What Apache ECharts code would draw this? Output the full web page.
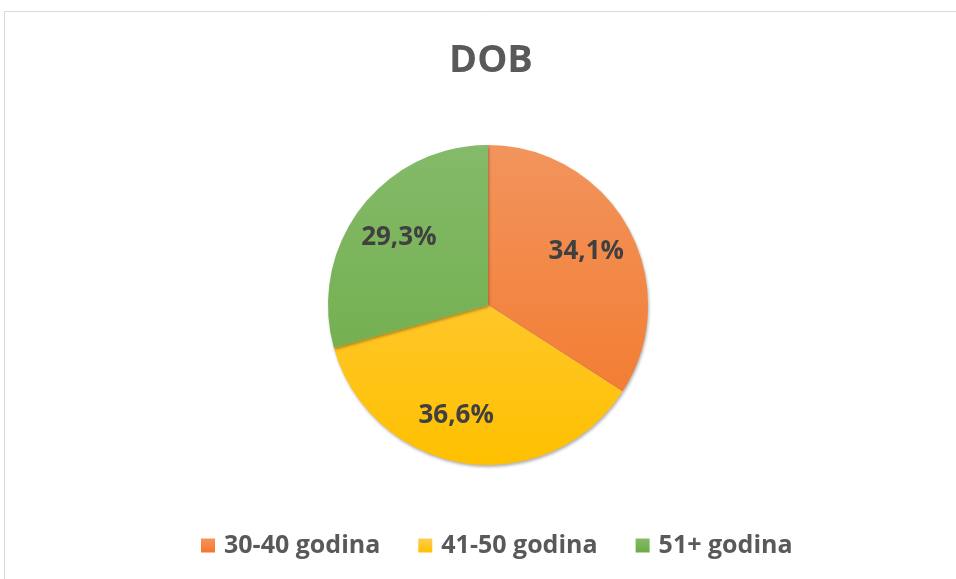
<!DOCTYPE html>
<html>
<head>
<meta charset="utf-8">
<script src="https://cdn.jsdelivr.net/npm/echarts@6/dist/echarts.min.js"></script>
<style>
  html, body { margin: 0; padding: 0; background: #fff; }
  #chart { width: 956px; height: 579px; }
</style>
</head>
<body>
<div id="chart"></div>
<script>
// podaci
var categories = ['30-40 godina', '41-50 godina', '51+ godina'];
var values = [34.1, 36.6, 29.3];
var topColors = ['#F2945D', '#FFCD52', '#84BA69'];
var bottomColors = ['#F37727', '#FFC000', '#6BAB44'];

var cx = 488, cy = 305, r = 160;

function gradGlobal(i) {
    return new echarts.graphic.LinearGradient(0, cy - r, 0, cy + r, [
        {offset: 0, color: topColors[i]},
        {offset: 1, color: bottomColors[i]}
    ], true);
}
function gradLocal(i) {
    return new echarts.graphic.LinearGradient(0, 0, 0, 1, [
        {offset: 0, color: topColors[i]},
        {offset: 1, color: bottomColors[i]}
    ]);
}

var pieData = [];
var labelData = [];
var legendData = [];
for (var i = 0; i < categories.length; i++) {
    pieData.push({name: categories[i], value: values[i], itemStyle: {color: gradGlobal(i)}});
    labelData.push({name: categories[i], value: values[i]});
    legendData.push({name: categories[i], itemStyle: {color: gradLocal(i)}});
}

var chart = echarts.init(document.getElementById('chart'));
var option = {
    animation: false,
    title: {
        text: 'DOB',
        left: 444,
        top: 37,
        textStyle: {
            fontFamily: 'Open Sans',
            fontSize: 38,
            fontWeight: 'bold',
            color: '#595959'
        }
    },
    legend: {
        data: legendData,
        bottom: 16,
        left: 196,
        icon: 'rect',
        itemWidth: 14,
        itemHeight: 14,
        itemGap: 38,
        textStyle: {
            fontFamily: 'Open Sans',
            fontSize: 25,
            fontWeight: 'bold',
            color: '#595959',
            padding: [0, 0, 0, 4]
        }
    },
    graphic: [{
        type: 'rect',
        shape: {x: 4.5, y: 11.5, width: 1000, height: 700},
        style: {fill: 'none', stroke: '#d9d9d9', lineWidth: 1},
        silent: true
    }],
    series: [
        {
            name: 'DOB',
            type: 'pie',
            center: [cx, cy],
            radius: [0, r],
            startAngle: 90,
            data: pieData,
            label: {show: false},
            labelLine: {show: false},
            itemStyle: {
                shadowBlur: 3,
                shadowOffsetX: 1,
                shadowOffsetY: 2,
                shadowColor: 'rgba(0,0,0,0.3)'
            },
            emphasis: {disabled: true}
        },
        {
            name: 'labels',
            type: 'pie',
            center: [cx, cy],
            radius: [58, r],
            startAngle: 90,
            silent: true,
            data: labelData,
            itemStyle: {color: 'rgba(0,0,0,0)'},
            label: {
                show: true,
                position: 'inside',
                formatter: function (p) {
                    return p.value.toFixed(1).replace('.', ',') + '%';
                },
                fontFamily: 'Open Sans',
                fontSize: 26,
                fontWeight: 'bold',
                color: '#404040'
            },
            labelLayout: function (p) {
                // kao u Excelu, srednja oznaka malo lijevo
                if (p.dataIndex === 1) {
                    return {dx: -15};
                }
                return {};
            },
            labelLine: {show: false},
            emphasis: {disabled: true}
        }
    ]
};
chart.setOption(option);
</script>
</body>
</html>
